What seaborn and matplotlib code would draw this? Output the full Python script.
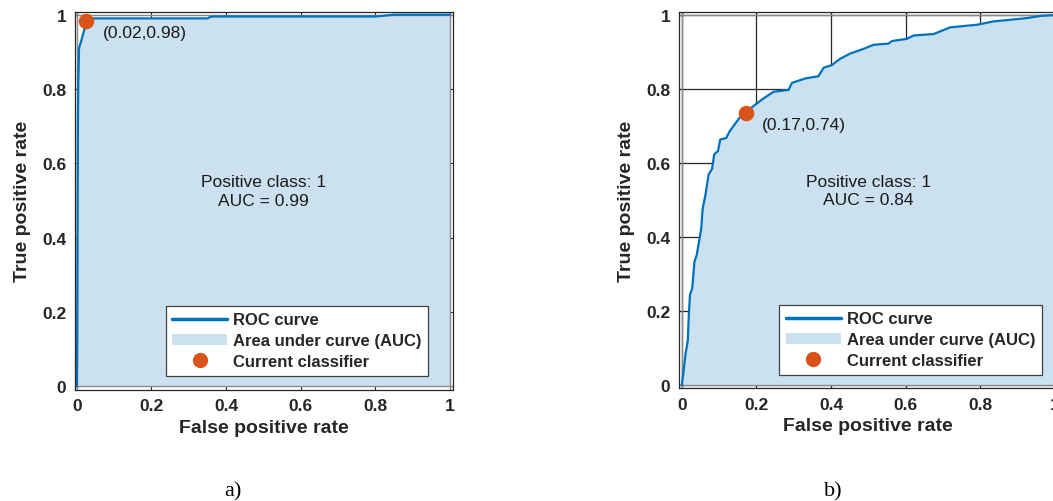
import matplotlib
matplotlib.use("Agg")
import matplotlib.pyplot as plt
import seaborn as sns
import pandas as pd
from matplotlib.patches import Patch
from matplotlib.lines import Line2D

# ---------------- data ----------------
fpr_a = [0.0, 0.001, 0.002, 0.003, 0.004, 0.006, 0.012, 0.023, 0.03, 0.35, 0.36, 0.80, 0.85, 1.0]
tpr_a = [0.0, 0.10, 0.40, 0.70, 0.82, 0.91, 0.93, 0.97, 0.99, 0.99, 0.995, 0.995, 1.0, 1.0]

fpr_b = [0.0, 0.004, 0.010, 0.016, 0.019, 0.022, 0.028, 0.034, 0.040, 0.046, 0.052, 0.056,
         0.063, 0.070, 0.072, 0.081, 0.087, 0.097, 0.103, 0.119, 0.128, 0.141, 0.154, 0.171,
         0.190, 0.219, 0.246, 0.286, 0.295, 0.331, 0.366, 0.380, 0.402, 0.424, 0.451, 0.487,
         0.514, 0.554, 0.563, 0.603, 0.621, 0.675, 0.719, 0.791, 0.835, 0.925, 0.961, 0.996, 1.0]
tpr_b = [0.0, 0.030, 0.083, 0.119, 0.190, 0.244, 0.261, 0.333, 0.351, 0.386, 0.422, 0.476,
         0.511, 0.556, 0.569, 0.583, 0.623, 0.632, 0.663, 0.667, 0.685, 0.703, 0.721, 0.734,
         0.752, 0.774, 0.792, 0.797, 0.816, 0.828, 0.834, 0.857, 0.864, 0.881, 0.895, 0.908,
         0.919, 0.922, 0.929, 0.935, 0.944, 0.948, 0.966, 0.973, 0.982, 0.991, 0.997, 0.999, 1.0]

op_x = [0.024, 0.171]
op_y = [0.982, 0.734]
op_labels = ["(0.02,0.98)", "(0.17,0.74)"]
auc_values = ["0.99", "0.84"]
panel_labels = ["a)", "b)"]
tick_values = [0, 0.2, 0.4, 0.6, 0.8, 1]
tick_labels = ["0", "0.2", "0.4", "0.6", "0.8", "1"]
legend_labels = ["ROC curve", "Area under curve (AUC)", "Current classifier"]

# ---------------- style ----------------
sns.set_style("ticks")
plt.rcParams["font.family"] = ["Liberation Sans", "DejaVu Sans"]

LINE_C = "#0072BD"
FILL_C = "#CBE1EF"
MARK_C = "#D95319"

fig = plt.figure(figsize=(10.53, 5.02), dpi=100)
axes = [fig.add_axes([0.0708, 0.2217, 0.3594, 0.753]),
        fig.add_axes([0.6444, 0.2245, 0.3604, 0.750])]

curves = [(fpr_a, tpr_a), (fpr_b, tpr_b)]
legend_anchor = [(0.935, 0.037), (0.957, 0.036)]
grid_on = [False, True]
xlims = [(-0.006, 1.008), (-0.0086, 1.008)]

for i, ax in enumerate(axes):
    fx, ty = curves[i]
    df = pd.DataFrame({"fpr": fx, "tpr": ty})
    if grid_on[i]:
        ax.grid(True, color="#262626", lw=0.9, zorder=0)
    ax.set_axisbelow(True)
    ax.fill_between(df["fpr"], df["tpr"], 0, color=FILL_C, lw=0, zorder=1)
    for v in (0, 1):
        ax.axhline(v, color="#8a8a8a", lw=1.0, zorder=1.5)
        ax.axvline(v, color="#8a8a8a", lw=1.0, zorder=1.5)
    sns.lineplot(data=df, x="fpr", y="tpr", ax=ax, color=LINE_C, lw=1.6,
                 estimator=None, sort=False, zorder=3)
    ax.scatter([op_x[i]], [op_y[i]], s=125, color=MARK_C, zorder=4, linewidths=0)
    ax.annotate(op_labels[i], (op_x[i], op_y[i]), xytext=(12, -8),
                textcoords="offset points", ha="left", va="center",
                fontsize=12.5, color="#1a1a1a")
    ax.text(0.5, 0.525, f"Positive class: 1\nAUC = {auc_values[i]}",
            ha="center", va="center", fontsize=12.5, color="#1a1a1a",
            linespacing=1.3)

    ax.set_xlim(*xlims[i])
    ax.set_ylim(-0.009, 1.008)
    ax.set_xticks(tick_values)
    ax.set_xticklabels(tick_labels)
    ax.set_yticks(tick_values)
    ax.set_yticklabels(tick_labels)
    ax.tick_params(direction="in", top=True, right=True, length=4, width=0.8,
                   labelsize=12.5, pad=6, colors="#262626")
    for lab in ax.get_xticklabels() + ax.get_yticklabels():
        lab.set_fontweight("bold")
    for s in ax.spines.values():
        s.set_color("#262626")
        s.set_linewidth(0.9)
        s.set_zorder(5)
    ax.set_xlabel("False positive rate", fontsize=14, fontweight="bold",
                  color="#262626", labelpad=4)
    ax.set_ylabel("True positive rate", fontsize=14, fontweight="bold",
                  color="#262626", labelpad=8)

    handles = [Line2D([], [], color=LINE_C, lw=2.5),
               Patch(facecolor=FILL_C, edgecolor="none"),
               Line2D([], [], color=MARK_C, marker="o", markersize=11, ls="none",
                      markeredgewidth=0)]
    leg = ax.legend(handles, legend_labels, loc="lower right",
                    bbox_to_anchor=legend_anchor[i], borderaxespad=0,
                    fancybox=False, framealpha=1, edgecolor="#404040",
                    prop={"weight": "bold", "size": 12}, handlelength=3.3,
                    handletextpad=0.35, labelspacing=0.35, borderpad=0.4)
    leg.get_frame().set_linewidth(0.9)
    leg.set_zorder(6)

for i, (x, lab) in enumerate(zip([0.221, 0.791], panel_labels)):
    fig.text(x, 0.021, lab, ha="center", va="center", fontsize=16,
             family=["Liberation Serif", "DejaVu Serif"], color="black")

fig.savefig("out.png", dpi=100, facecolor="white")
